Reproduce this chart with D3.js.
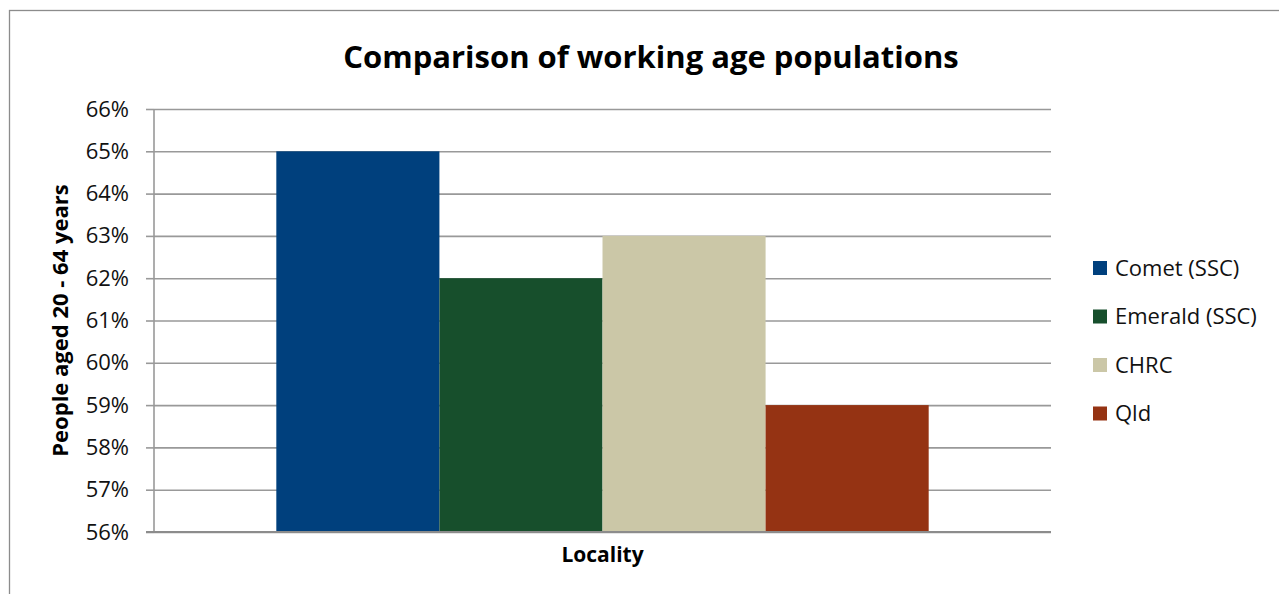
<!DOCTYPE html>
<html>
<head>
<meta charset="utf-8">
<script src="https://cdn.jsdelivr.net/npm/d3@7"></script>
<style>
  html, body { margin: 0; padding: 0; background: #fff; }
  svg { display: block; font-family: "Open Sans", "Noto Sans", sans-serif; }
</style>
</head>
<body>
<svg id="chart" width="1279" height="594"></svg>
<script>
// Share of people aged 20-64 by locality
const seriesNames = ["Comet (SSC)", "Emerald (SSC)", "CHRC", "Qld"];
const seriesValues = [0.65, 0.62, 0.63, 0.59];
const seriesColors = ["#00407D", "#174F2C", "#CBC7A7", "#953313"];
const categories = ["Locality"];
const yTicks = [0.56, 0.57, 0.58, 0.59, 0.60, 0.61, 0.62, 0.63, 0.64, 0.65, 0.66];

const svg = d3.select("#chart");

// outer chart frame
svg.append("rect")
  .attr("x", 9.5).attr("y", 10.5)
  .attr("width", 1300).attr("height", 700)
  .attr("fill", "none").attr("stroke", "#8c8c8c").attr("stroke-width", 1.3);

const plot = { left: 154, right: 1051, top: 109, bottom: 532 };

const y = d3.scaleLinear()
  .domain([d3.min(yTicks), d3.max(yTicks)])
  .range([plot.bottom, plot.top]);

const x0 = d3.scaleBand()
  .domain(categories)
  .range([plot.left, plot.right])
  .paddingInner(0)
  .paddingOuter(0);

// gap width of 150% on each side of the cluster
const band = x0.bandwidth();
const barW = band / (seriesNames.length + 1.5);
const x1 = d3.scaleBand()
  .domain(seriesNames)
  .range([barW * 0.75, band - barW * 0.75])
  .padding(0);

// gridlines
svg.append("g")
  .attr("transform", `translate(${plot.left},0)`)
  .call(d3.axisLeft(y).tickValues(yTicks).tickSize(-(plot.right - plot.left)).tickFormat(""))
  .call(g => g.select(".domain").remove())
  .call(g => g.selectAll("line").attr("stroke", "#999").attr("stroke-width", 1.6));

// bars
const cluster = svg.append("g")
  .selectAll("g")
  .data(categories)
  .join("g")
  .attr("transform", d => `translate(${x0(d)},0)`);

cluster.selectAll("rect")
  .data(seriesNames.map((n, i) => ({ name: n, value: seriesValues[i], color: seriesColors[i] })))
  .join("rect")
  .attr("x", d => x1(d.name))
  .attr("width", x1.bandwidth())
  .attr("y", d => y(d.value))
  .attr("height", d => y(d3.min(yTicks)) - y(d.value))
  .attr("fill", d => d.color);

// value axis
svg.append("g")
  .attr("transform", `translate(${plot.left},0)`)
  .call(d3.axisLeft(y).tickValues(yTicks).tickSize(8).tickPadding(17).tickFormat(d3.format(".0%")))
  .call(g => g.select(".domain").attr("stroke", "#999").attr("stroke-width", 1.6).attr("d", `M0,${plot.top}V${plot.bottom}`))
  .call(g => g.selectAll("line").attr("stroke", "#999").attr("stroke-width", 1.6))
  .call(g => g.selectAll("text").attr("font-size", 22).attr("fill", "#111")
    .attr("font-family", "'Open Sans', sans-serif"));

// category axis line
svg.append("g")
  .attr("transform", `translate(0,${plot.bottom})`)
  .call(d3.axisBottom(x0).tickSize(0).tickFormat(""))
  .call(g => g.select(".domain").attr("stroke", "#8c8c8c").attr("stroke-width", 1.8)
    .attr("d", `M${plot.left - 8},0H${plot.right}`));

// title
svg.append("text")
  .attr("x", 651).attr("y", 68)
  .attr("text-anchor", "middle")
  .attr("font-size", 31).attr("font-weight", "bold").attr("fill", "#000")
  .text("Comparison of working age populations");

// axis titles
svg.append("text")
  .attr("transform", `translate(60,${(plot.top + plot.bottom) / 2}) rotate(-90)`)
  .attr("text-anchor", "middle").attr("dy", "0.35em")
  .attr("font-size", 22).attr("font-weight", "bold").attr("fill", "#000")
  .text("People aged 20 - 64 years");

svg.append("text")
  .attr("x", x0(categories[0]) + band / 2).attr("y", 555).attr("dy", "0.35em")
  .attr("text-anchor", "middle")
  .attr("font-size", 21).attr("font-weight", "bold").attr("fill", "#000")
  .text(categories[0]);

// legend
const legend = svg.append("g")
  .selectAll("g")
  .data(seriesNames)
  .join("g")
  .attr("transform", (d, i) => `translate(1093,${268 + i * 48.5})`);

legend.append("rect")
  .attr("x", 0).attr("y", -7)
  .attr("width", 14).attr("height", 14)
  .attr("fill", (d, i) => seriesColors[i]);

legend.append("text")
  .attr("x", 22).attr("y", 0).attr("dy", "0.35em")
  .attr("font-size", 22).attr("fill", "#111")
  .text(d => d);
</script>
</body>
</html>
